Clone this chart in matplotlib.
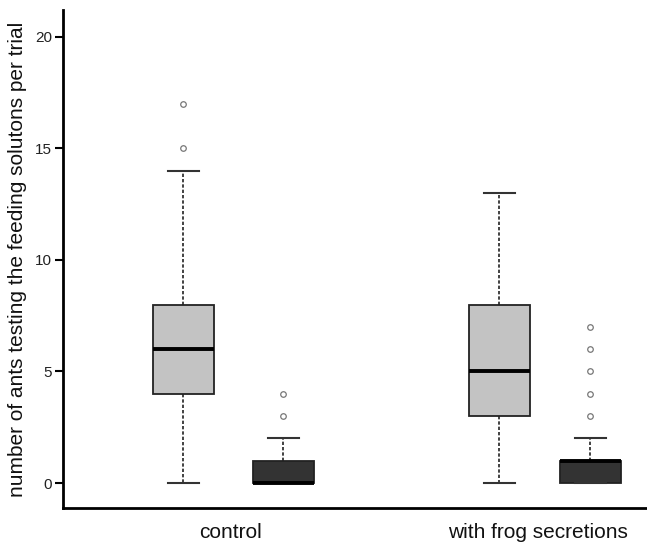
import matplotlib
matplotlib.use("Agg")
import matplotlib.pyplot as plt

plt.rcParams['font.family'] = ['Liberation Sans', 'DejaVu Sans']

# box statistics
groups = ["control", "with frog secretions"]
whislo = [0, 0, 0, 0]
q1 = [4, 0, 3, 0]
med = [6, 0, 5, 1]
q3 = [8, 1, 8, 1]
whishi = [14, 2, 13, 2]
fliers = [[15, 17], [3, 4], [], [3, 4, 5, 6, 7]]
colors = ["#c3c3c3", "#333333", "#c3c3c3", "#333333"]

stats = []
for i in range(4):
    stats.append(dict(whislo=whislo[i], q1=q1[i], med=med[i], q3=q3[i],
                      whishi=whishi[i], fliers=fliers[i]))

fig = plt.figure(figsize=(6.47, 5.48), dpi=100)
ax = fig.add_axes([63 / 647, 40 / 548, 1 - 63 / 647, 498 / 548])

pos = [183, 283, 499, 590]
bp = ax.bxp(stats, positions=pos, widths=61, patch_artist=True,
            boxprops=dict(edgecolor="#222222", linewidth=1.3),
            medianprops=dict(color="black", linewidth=2.8),
            whiskerprops=dict(color="#222222", linewidth=1.2, linestyle=(0, (2, 1.2))),
            capprops=dict(color="#333333", linewidth=1.5),
            capwidths=31,
            flierprops=dict(marker="o", markersize=4, markerfacecolor="none",
                            markeredgecolor="#777777", markeredgewidth=0.9))
for patch, c in zip(bp["boxes"], colors):
    patch.set_facecolor(c)

ax.set_xlim(63, 647)
ax.set_ylim(-1.12, 21.2)
ax.set_yticks([0, 5, 10, 15, 20])
ax.set_xticks([231, 538])
ax.set_xticklabels(groups, fontsize=15, color="#111111")
ax.tick_params(axis="x", length=0, pad=11)
ax.tick_params(axis="y", length=6, width=1.5, labelsize=11, pad=2, labelcolor="#222222")
ax.set_ylabel("number of ants testing the feeding solutons per trial", fontsize=15,
              labelpad=6, color="#111111")

for s in ["top", "right"]:
    ax.spines[s].set_visible(False)
for s in ["left", "bottom"]:
    ax.spines[s].set_linewidth(2)

fig.savefig("out.png", dpi=100)
